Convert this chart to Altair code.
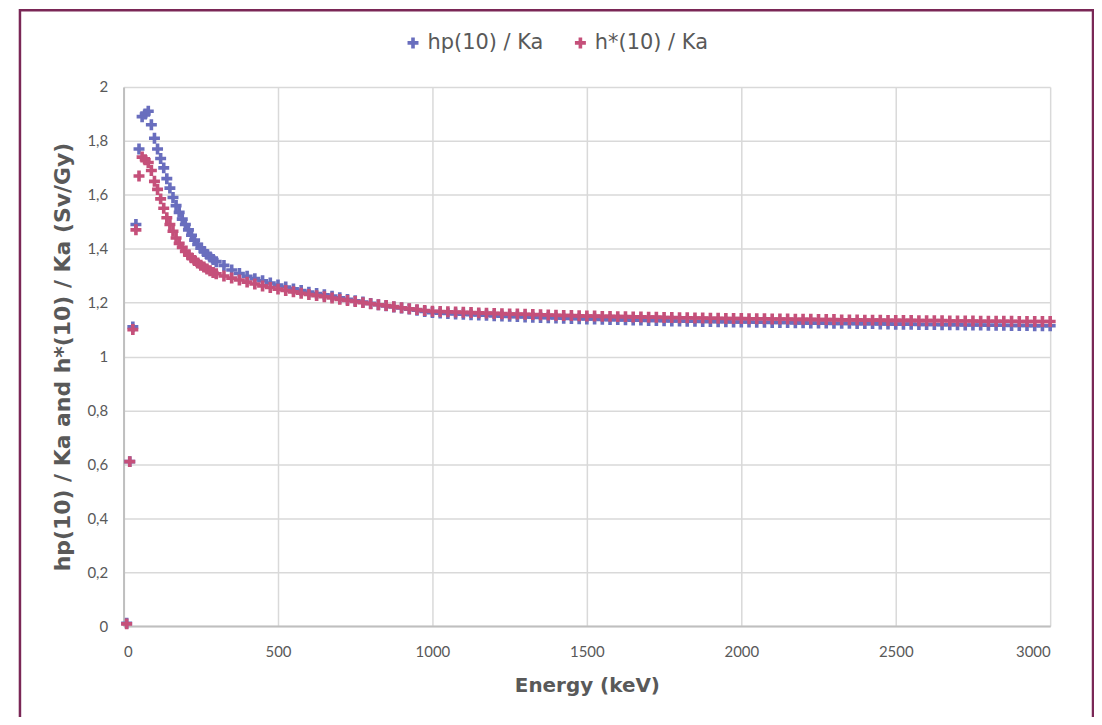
import altair as alt
import pandas as pd

series_names = ["hp(10) / Ka", "h*(10) / Ka"]
series_colors = ["#696EBE", "#C5507A"]

energy_kev = [
    10, 20, 30, 40, 50, 60, 70, 80, 90, 100, 110, 120, 130, 140, 150,
    160, 170, 180, 190, 200, 210, 220, 230, 240, 250, 260, 270, 280, 290, 300,
    325, 350, 375, 400, 425, 450, 475, 500, 525, 550, 575, 600, 625, 650, 675, 700,
    725, 750, 775, 800, 825, 850, 875, 900, 925, 950, 975, 1000,
    1025, 1050, 1075, 1100, 1125, 1150, 1175, 1200, 1225, 1250,
    1275, 1300, 1325, 1350, 1375, 1400, 1425, 1450, 1475, 1500,
    1525, 1550, 1575, 1600, 1625, 1650, 1675, 1700, 1725, 1750,
    1775, 1800, 1825, 1850, 1875, 1900, 1925, 1950, 1975, 2000,
    2025, 2050, 2075, 2100, 2125, 2150, 2175, 2200, 2225, 2250,
    2275, 2300, 2325, 2350, 2375, 2400, 2425, 2450, 2475, 2500,
    2525, 2550, 2575, 2600, 2625, 2650, 2675, 2700, 2725, 2750,
    2775, 2800, 2825, 2850, 2875, 2900, 2925, 2950, 2975, 3000,
]

hp10_ka = [
    0.01, 0.61, 1.11, 1.49, 1.77, 1.89, 1.90, 1.91, 1.86, 1.81, 1.77, 1.735, 1.70, 1.66, 1.625,
    1.59, 1.56, 1.535, 1.51, 1.49, 1.47, 1.45, 1.432, 1.416, 1.402, 1.39, 1.379, 1.369, 1.36, 1.352,
    1.338, 1.321, 1.308, 1.298, 1.289, 1.281, 1.273, 1.265, 1.258, 1.251, 1.245, 1.239, 1.234, 1.229, 1.224, 1.218,
    1.212, 1.207, 1.202, 1.197, 1.192, 1.188, 1.184, 1.180, 1.176, 1.172, 1.167, 1.163,
    1.161, 1.160, 1.158, 1.157, 1.155, 1.154, 1.153, 1.151, 1.150, 1.149,
    1.148, 1.147, 1.146, 1.145, 1.144, 1.143, 1.142, 1.141, 1.140, 1.139,
    1.139, 1.138, 1.137, 1.137, 1.136, 1.135, 1.135, 1.134, 1.134, 1.133,
    1.132, 1.132, 1.131, 1.131, 1.130, 1.130, 1.129, 1.129, 1.128, 1.128,
    1.128, 1.127, 1.127, 1.126, 1.126, 1.126, 1.125, 1.125, 1.124, 1.124,
    1.124, 1.123, 1.123, 1.123, 1.122, 1.122, 1.122, 1.121, 1.121, 1.120,
    1.120, 1.120, 1.119, 1.119, 1.119, 1.118, 1.118, 1.118, 1.117, 1.117,
    1.117, 1.116, 1.116, 1.116, 1.115, 1.115, 1.115, 1.114, 1.114, 1.114,
]

hstar10_ka = [
    0.008, 0.61, 1.10, 1.47, 1.67, 1.74, 1.73, 1.72, 1.69, 1.65, 1.62, 1.585, 1.55, 1.515, 1.49,
    1.465, 1.44, 1.42, 1.405, 1.39, 1.377, 1.366, 1.356, 1.347, 1.339, 1.332, 1.325, 1.318, 1.312, 1.307,
    1.299, 1.291, 1.284, 1.276, 1.269, 1.262, 1.256, 1.250, 1.245, 1.240, 1.235, 1.230, 1.226, 1.222, 1.217, 1.212,
    1.208, 1.204, 1.200, 1.196, 1.192, 1.189, 1.185, 1.181, 1.177, 1.174, 1.171, 1.168,
    1.167, 1.166, 1.165, 1.164, 1.163, 1.162, 1.161, 1.160, 1.159, 1.158,
    1.158, 1.157, 1.156, 1.155, 1.154, 1.153, 1.152, 1.152, 1.151, 1.150,
    1.150, 1.149, 1.149, 1.148, 1.148, 1.147, 1.147, 1.146, 1.146, 1.145,
    1.145, 1.144, 1.144, 1.143, 1.143, 1.142, 1.142, 1.141, 1.141, 1.141,
    1.140, 1.140, 1.140, 1.139, 1.139, 1.139, 1.138, 1.138, 1.138, 1.137,
    1.137, 1.137, 1.136, 1.136, 1.136, 1.135, 1.135, 1.135, 1.134, 1.134,
    1.134, 1.134, 1.133, 1.133, 1.133, 1.133, 1.132, 1.132, 1.132, 1.132,
    1.131, 1.131, 1.131, 1.131, 1.131, 1.130, 1.130, 1.130, 1.130, 1.130,
]

x_ticks = [0, 500, 1000, 1500, 2000, 2500, 3000]
y_ticks = [0, 0.2, 0.4, 0.6, 0.8, 1, 1.2, 1.4, 1.6, 1.8, 2]

rows = []
for name, vals in zip(series_names, [hp10_ka, hstar10_ka]):
    for e, v in zip(energy_kev, vals):
        rows.append({"series": name, "energy": e, "value": v})
df = pd.DataFrame(rows)

CROSS = "M-1,-0.33H-0.33V-1H0.33V-0.33H1V0.33H0.33V1H-0.33V0.33H-1Z"
GREY = "#595959"
LABEL_FONT = "Lato, Liberation Sans, sans-serif"
TITLE_FONT = "DejaVu Sans, Liberation Sans, sans-serif"
LEGEND_FONT = "DejaVu Sans, Liberation Sans, sans-serif"

points = alt.Chart(df).mark_point(
    shape=CROSS, filled=True, size=121, opacity=1, strokeWidth=0
).encode(
    x=alt.X("energy:Q", title="Energy (keV)",
            scale=alt.Scale(domain=[0, 3000], nice=False, zero=False),
            axis=alt.Axis(values=x_ticks, format="d", titleFontSize=20)),
    y=alt.Y("value:Q", title="hp(10) / Ka and h*(10) / Ka (Sv/Gy)",
            scale=alt.Scale(domain=[0, 2], nice=False),
            axis=alt.Axis(values=y_ticks, titleFontSize=22,
                          labelExpr="replace(toString(datum.value), '.', ',')")),
    color=alt.Color("series:N",
                    scale=alt.Scale(domain=series_names, range=series_colors),
                    sort=series_names,
                    legend=alt.Legend(title=None, orient="none", direction="horizontal",
                                      legendX=280, legendY=-55,
                                      symbolType=CROSS, symbolSize=121,
                                      symbolStrokeWidth=0,
                                      labelFont=LEGEND_FONT, labelFontWeight="normal",
                                      labelFontSize=21, labelColor=GREY,
                                      columnPadding=26, labelOffset=4)),
    order=alt.Order("series_order:Q"),
).transform_calculate(
    series_order="datum.series == 'hp(10) / Ka' ? 0 : 1"
)

frame = alt.Chart(alt.Data(values=[{}])).mark_rect(
    fillOpacity=0, stroke="#7A2756", strokeWidth=2.5
).encode(
    x=alt.value(-104), x2=alt.value(973), y=alt.value(-77), y2=alt.value(700)
)

chart = alt.layer(points, frame).properties(
    width=930, height=541,
    autosize=alt.AutoSizeParams(type="none"),
    padding={"left": 116, "top": 78, "right": 44, "bottom": 90},
    background="white",
).configure_view(
    strokeWidth=0
).configure_axis(
    grid=True, gridColor="#D9D9D9", gridWidth=1.5,
    domainColor="#BFBFBF", domainWidth=2,
    ticks=False,
    labelFont=LABEL_FONT, labelFontSize=15, labelColor=GREY,
    titleFont=TITLE_FONT, titleFontWeight="bold", titleColor=GREY,
).configure_axisX(
    labelPadding=19, titlePadding=16
).configure_axisY(
    labelPadding=16, titlePadding=12
)

chart.save("out.html", embed_options={"renderer": "svg", "actions": False})
